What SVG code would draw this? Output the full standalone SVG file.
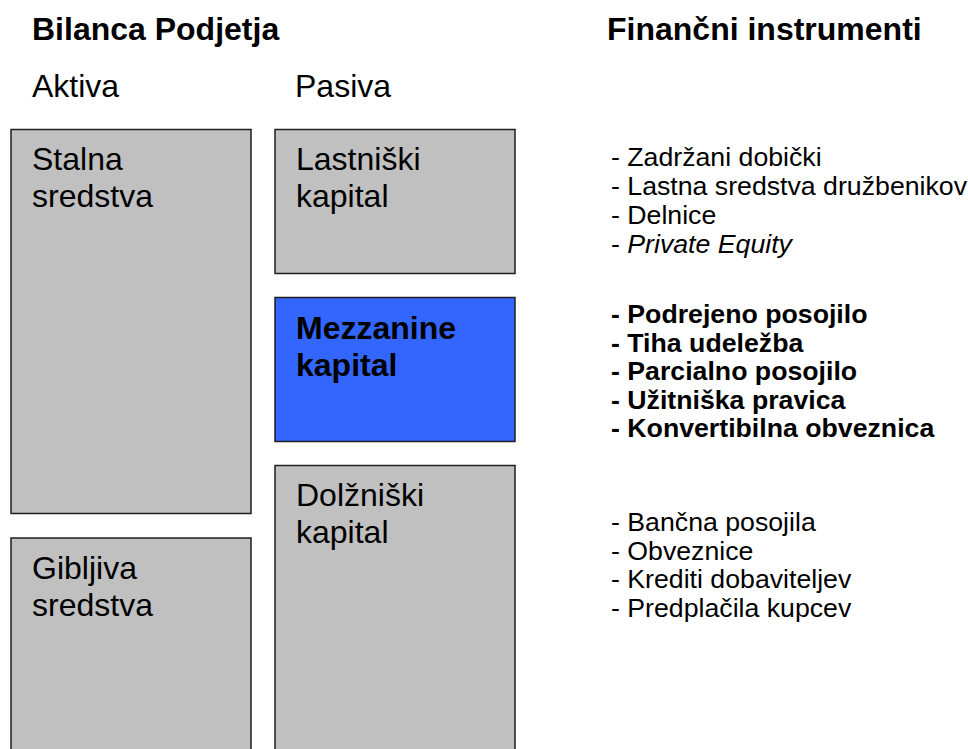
<svg xmlns="http://www.w3.org/2000/svg" width="968" height="749" viewBox="0 0 968 749">
  <style>
    text { font-family: "Liberation Sans", Arial, sans-serif; fill: #000; }
    .head { font-size: 32px; font-weight: bold; }
    .col { font-size: 32px; }
    .lbl { font-size: 32px; }
    .lbl-b { font-size: 32px; font-weight: bold; }
    .item { font-size: 26.7px; }
    .item-b { font-size: 26.7px; font-weight: bold; }
    .box { fill: #C0C0C0; stroke: #1f1f1f; stroke-width: 1.5; }
    .box-hi { fill: #3366FF; stroke: #1f1f1f; stroke-width: 1.5; }
  </style>

  <rect width="968" height="749" fill="#FFFFFF"/>

  <!-- headings -->
  <text class="head" x="32" y="40">Bilanca Podjetja</text>
  <text class="head" x="607" y="40">Finančni instrumenti</text>
  <text class="col" x="32" y="97">Aktiva</text>
  <text class="col" x="295" y="97">Pasiva</text>

  <!-- assets column -->
  <g id="stalna-sredstva">
    <rect class="box" x="11" y="129.5" width="240" height="384"/>
    <text class="lbl" x="32" y="170">Stalna</text>
    <text class="lbl" x="32" y="207">sredstva</text>
  </g>
  <g id="gibljiva-sredstva">
    <rect class="box" x="11" y="538" width="240" height="230"/>
    <text class="lbl" x="32" y="579">Gibljiva</text>
    <text class="lbl" x="32" y="616">sredstva</text>
  </g>

  <!-- liabilities column -->
  <g id="lastniski-kapital">
    <rect class="box" x="275" y="129.5" width="240" height="144"/>
    <text class="lbl" x="296" y="170">Lastniški</text>
    <text class="lbl" x="296" y="207">kapital</text>
  </g>
  <g id="mezzanine-kapital">
    <rect class="box-hi" x="275" y="297.5" width="240" height="144"/>
    <text class="lbl-b" x="296" y="339">Mezzanine</text>
    <text class="lbl-b" x="296" y="376">kapital</text>
  </g>
  <g id="dolzniski-kapital">
    <rect class="box" x="275" y="465.5" width="240" height="300"/>
    <text class="lbl" x="296" y="506">Dolžniški</text>
    <text class="lbl" x="296" y="543">kapital</text>
  </g>

  <!-- instrument lists -->
  <g id="instrumenti-lastniski">
    <text class="item" x="611" y="166">- Zadržani dobički</text>
    <text class="item" x="611" y="195">- Lastna sredstva družbenikov</text>
    <text class="item" x="611" y="224">- Delnice</text>
    <text class="item" x="611" y="253">- <tspan font-style="italic">Private Equity</tspan></text>
  </g>
  <g id="instrumenti-mezzanine">
    <text class="item-b" x="611" y="323">- Podrejeno posojilo</text>
    <text class="item-b" x="611" y="351.5">- Tiha udeležba</text>
    <text class="item-b" x="611" y="380">- Parcialno posojilo</text>
    <text class="item-b" x="611" y="408.5">- Užitniška pravica</text>
    <text class="item-b" x="611" y="437">- Konvertibilna obveznica</text>
  </g>
  <g id="instrumenti-dolzniski">
    <text class="item" x="611" y="531">- Bančna posojila</text>
    <text class="item" x="611" y="559.5">- Obveznice</text>
    <text class="item" x="611" y="588">- Krediti dobaviteljev</text>
    <text class="item" x="611" y="616.5">- Predplačila kupcev</text>
  </g>
</svg>
